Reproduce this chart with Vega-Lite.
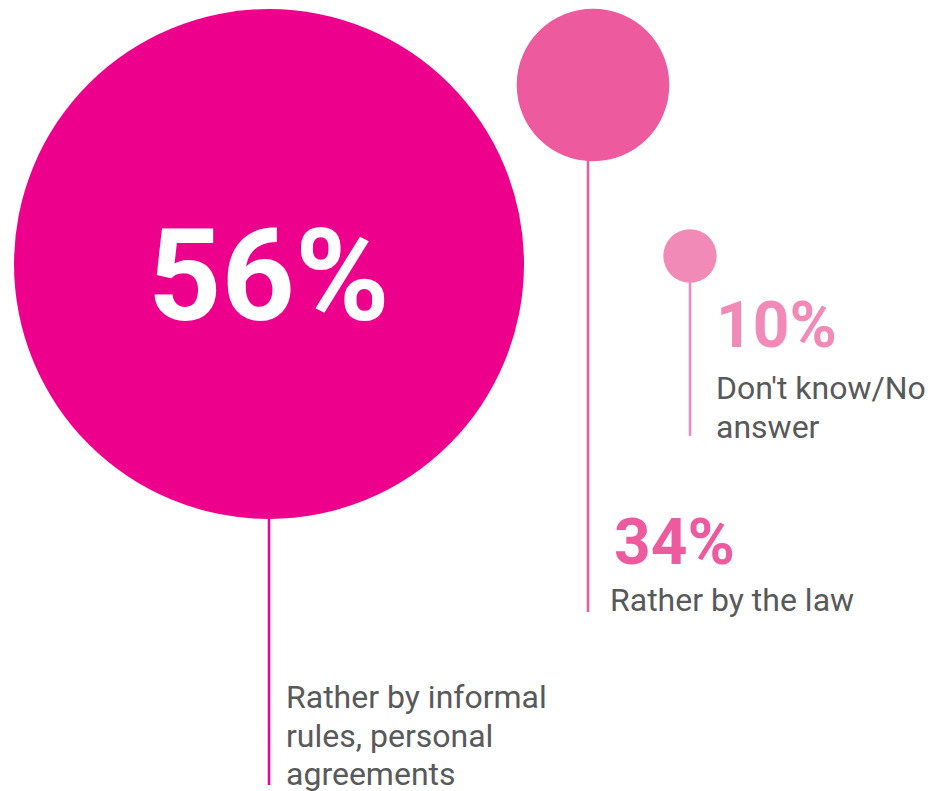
{
  "$schema": "https://vega.github.io/schema/vega-lite/v6.json",
  "width": 937,
  "height": 791,
  "padding": 0,
  "autosize": {"type": "none"},
  "background": "#ffffff",
  "config": {"view": {"stroke": null}},
  "data": {
    "values": [
      {"answer": "Rather by informal\nrules, personal\nagreements", "share": 0.56},
      {"answer": "Rather by the law", "share": 0.34},
      {"answer": "Don't know/No\nanswer", "share": 0.10}
    ]
  },
  "layer": [
    {
      "mark": {"type": "tick", "orient": "vertical", "thickness": 2.5, "opacity": 1},
      "encoding": {
        "x": {"field": "share", "type": "quantitative", "axis": null,
              "scale": {"domain": [0.1, 0.34, 0.56], "range": [690, 588, 269], "nice": false, "zero": false}},
        "y": {"field": "share", "type": "quantitative", "axis": null,
              "scale": {"domain": [0.1, 0.34, 0.56], "range": [348, 366, 542.5], "nice": false, "zero": false}},
        "size": {"field": "share", "type": "quantitative", "legend": null,
                 "scale": {"domain": [0.1, 0.34, 0.56], "range": [176, 492, 485], "zero": false}},
        "color": {"field": "share", "type": "ordinal", "legend": null,
                  "scale": {"domain": [0.1, 0.34, 0.56], "range": ["#F28AB8", "#EE5A9E", "#EC008C"]}}
      }
    },
    {
      "mark": {"type": "circle", "opacity": 1},
      "encoding": {
        "x": {"field": "share", "type": "quantitative", "axis": null,
              "scale": {"domain": [0.1, 0.34, 0.56], "range": [690, 593, 269], "nice": false, "zero": false}},
        "y": {"field": "share", "type": "quantitative", "axis": null,
              "scale": {"domain": [0.1, 0.34, 0.56], "range": [256, 85, 264], "nice": false, "zero": false}},
        "size": {"field": "share", "type": "quantitative", "legend": null,
                 "scale": {"domain": [0.1, 0.34, 0.56], "range": [2852, 23287, 260100], "zero": false}},
        "color": {"field": "share", "type": "ordinal", "legend": null,
                  "scale": {"domain": [0.1, 0.34, 0.56], "range": ["#F28AB8", "#EE5A9E", "#EC008C"]}}
      }
    },
    {
      "mark": {"type": "text", "font": "Roboto", "fontWeight": "bold", "align": "left", "baseline": "alphabetic"},
      "encoding": {
        "text": {"field": "share", "type": "quantitative", "format": ".0%"},
        "x": {"field": "share", "type": "quantitative", "axis": null,
              "scale": {"domain": [0.1, 0.34, 0.56], "range": [716, 614, 148], "nice": false, "zero": false}},
        "y": {"field": "share", "type": "quantitative", "axis": null,
              "scale": {"domain": [0.1, 0.34, 0.56], "range": [347, 564, 320], "nice": false, "zero": false}},
        "size": {"field": "share", "type": "quantitative", "legend": null,
                 "scale": {"domain": [0.1, 0.34, 0.56], "range": [64, 64, 128], "zero": false}},
        "color": {"field": "share", "type": "ordinal", "legend": null,
                  "scale": {"domain": [0.1, 0.34, 0.56], "range": ["#F28AB8", "#EE5A9E", "#FFFFFF"]}}
      }
    },
    {
      "mark": {"type": "text", "font": "Roboto", "fontSize": 32, "color": "#58595B", "align": "left", "baseline": "alphabetic", "lineBreak": "\n", "lineHeight": 38.5},
      "encoding": {
        "text": {"field": "answer", "type": "nominal"},
        "x": {"field": "share", "type": "quantitative", "axis": null,
              "scale": {"domain": [0.1, 0.34, 0.56], "range": [716, 610, 286], "nice": false, "zero": false}},
        "y": {"field": "share", "type": "quantitative", "axis": null,
              "scale": {"domain": [0.1, 0.34, 0.56], "range": [399, 611, 708], "nice": false, "zero": false}}
      }
    }
  ],
  "resolve": {"scale": {"x": "independent", "y": "independent", "size": "independent", "color": "independent"}}
}
